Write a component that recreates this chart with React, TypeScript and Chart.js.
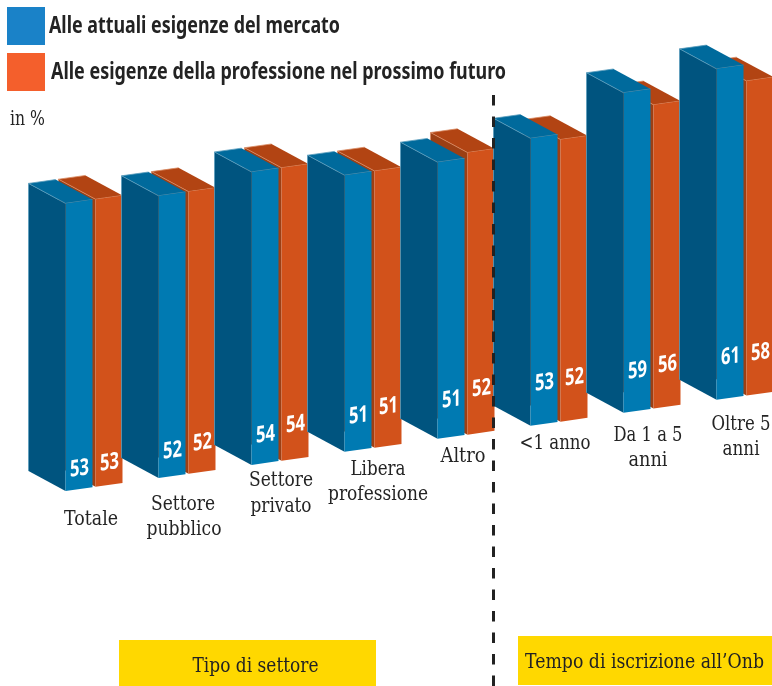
import React, { useEffect, useRef } from "react";
import { Chart, registerables } from "chart.js";

Chart.register(...registerables);

// ---- data ----
const categories = ["Totale", "Settore pubblico", "Settore privato", "Libera professione", "Altro", "<1 anno", "Da 1 a 5 anni", "Oltre 5 anni"];
const attuali = [53, 52, 54, 51, 51, 53, 59, 61];
const futuro = [53, 52, 54, 51, 52, 52, 56, 58];
const seriesNames = ["Alle attuali esigenze del mercato", "Alle esigenze della professione nel prossimo futuro"];
const unitLabel = "in %";
const groupTitles = ["Tipo di settore", "Tempo di iscrizione all\u2019Onb"];

// ---- category label lines and their placement: [text, centre x, centre y, width] ----
const labelLines: [string, number, number, number][] = [
  ["Totale", 91, 520, 54],
  ["Settore", 183, 505, 64],
  ["pubblico", 184, 530, 75],
  ["Settore", 281, 481, 64],
  ["privato", 281, 507, 61],
  ["Libera", 378, 470, 55],
  ["professione", 378, 495, 100],
  ["Altro", 463, 457, 45],
  ["<1 anno", 555, 444, 71],
  ["Da 1 a 5", 648, 436, 69],
  ["anni", 648, 461, 39],
  ["Oltre 5", 741, 425, 59],
  ["anni", 741, 450, 37],
];
// height of the value label above the bar foot
const liftA = [20, 25, 28, 34, 37, 41, 40, 41];
const liftB = [22, 29, 34, 39, 44, 42, 42, 41];

const SHEAR = -0.14;
const X0 = 65;
const DEPTH_X = -37;
const DEPTH_Y = -20;

const palette = [
  { front: "#007ab2", side: "#00547f", top: "#006a9c", edge: "#5b9dbd", legend: "#1a82c8" },
  { front: "#d2521b", side: "#9c3f14", top: "#b24413", edge: "#d98a62", legend: "#f45f2c" },
];

const fitText = (ctx: CanvasRenderingContext2D, text: string, cx: number, cy: number, font: string, width: number, color: string) => {
  ctx.save();
  ctx.font = font;
  ctx.fillStyle = color;
  ctx.textAlign = "center";
  ctx.textBaseline = "middle";
  const sx = width / ctx.measureText(text).width;
  ctx.translate(cx, cy);
  ctx.scale(sx, 1);
  ctx.fillText(text, 0, 0);
  ctx.restore();
};

const skew = (x: number, y: number): [number, number] => [x, y + SHEAR * (x - X0)];

const poly = (ctx: CanvasRenderingContext2D, pts: [number, number][], fill: string) => {
  ctx.beginPath();
  pts.forEach((p, i) => (i ? ctx.lineTo(p[0], p[1]) : ctx.moveTo(p[0], p[1])));
  ctx.closePath();
  ctx.fillStyle = fill;
  ctx.fill();
};

const back = (p: [number, number]): [number, number] => [p[0] + DEPTH_X, p[1] + DEPTH_Y];

const solid = {
  id: "solid",
  beforeDatasetDraw(chart: any, args: any) {
    const { ctx } = chart;
    const colors = palette[args.index];
    args.meta.data.forEach((bar: any) => {
      const { x, y, base, width } = bar.getProps(["x", "y", "base", "width"], true);
      const l = x - width / 2;
      const r = x + width / 2;
      const tl = skew(l, y);
      const tr = skew(r, y);
      const bl = skew(l, base);
      poly(ctx, [tl, bl, back(bl), back(tl)], colors.side);
      poly(ctx, [tl, tr, back(tr), back(tl)], colors.top);
      ctx.strokeStyle = colors.edge;
      ctx.lineWidth = 0.8;
      ctx.beginPath();
      ctx.moveTo(...back(bl));
      ctx.lineTo(...back(tl));
      ctx.lineTo(...back(tr));
      ctx.moveTo(...back(tl));
      ctx.lineTo(...tl);
      ctx.lineTo(...tr);
      ctx.stroke();
    });
    ctx.save();
    ctx.transform(1, SHEAR, 0, 1, 0, -SHEAR * X0);
  },
  afterDatasetDraw(chart: any, args: any) {
    const { ctx } = chart;
    const lifts = args.index === 0 ? liftA : liftB;
    const values = args.index === 0 ? attuali : futuro;
    args.meta.data.forEach((bar: any, i: number) => {
      const { x, base } = bar.getProps(["x", "base"], true);
      fitText(ctx, String(values[i]), x + 0.5, base - lifts[i], 'bold 23px "Noto Sans"', 19, "#ffffff");
    });
    ctx.restore();
  },
};

const furniture = {
  id: "furniture",
  afterDraw(chart: any) {
    const { ctx } = chart;
    const serif = '20px "DejaVu Serif"';
    const ink = "#242424";
    // legend
    ctx.fillStyle = palette[0].legend;
    ctx.fillRect(7, 7, 38, 38);
    ctx.fillStyle = palette[1].legend;
    ctx.fillRect(7, 53, 38, 38);
    const legendFont = 'bold 23px "Noto Sans"';
    fitText(ctx, seriesNames[0], 194.5, 26, legendFont, 291, "#232323");
    fitText(ctx, seriesNames[1], 278.5, 72, legendFont, 455, "#232323");
    fitText(ctx, unitLabel, 27.5, 120, serif, 35, ink);
    // category labels
    labelLines.forEach(([text, cx, cy, w]) => fitText(ctx, text, cx, cy, serif, w, ink));
    // section boxes
    ctx.fillStyle = "#ffd800";
    ctx.fillRect(119, 640, 257, 46);
    ctx.fillRect(518, 636, 254, 49);
    fitText(ctx, groupTitles[0], 255.5, 667, serif, 126, "#222222");
    fitText(ctx, groupTitles[1], 644.5, 663, serif, 239, "#222222");
    // divider
    ctx.save();
    ctx.strokeStyle = "#222222";
    ctx.lineWidth = 3;
    ctx.setLineDash([10.5, 11]);
    ctx.beginPath();
    ctx.moveTo(493.5, 95);
    ctx.lineTo(493.5, 686);
    ctx.stroke();
    ctx.restore();
  },
};

export default function App() {
  const ref = useRef<HTMLCanvasElement>(null);
  useEffect(() => {
    const chart = new Chart(ref.current as HTMLCanvasElement, {
      type: "bar",
      data: {
        labels: categories,
        datasets: [
          { label: seriesNames[0], data: attuali, backgroundColor: palette[0].front, clip: false as any },
          { label: seriesNames[1], data: futuro, backgroundColor: palette[1].front, clip: false as any },
        ],
      },
      options: {
        animation: false,
        responsive: false,
        devicePixelRatio: 1,
        layout: { padding: { left: 94, right: 27, top: 57, bottom: 195 } },
        datasets: { bar: { categoryPercentage: 0.645, barPercentage: 0.9, borderWidth: 0 } },
        plugins: { legend: { display: false }, tooltip: { enabled: false }, title: { display: false } },
        scales: {
          x: { display: false, offset: false, grid: { display: false } },
          y: { display: false, min: 0, max: 80, grid: { display: false } },
        },
      },
      plugins: [solid, furniture],
    } as any);
    return () => chart.destroy();
  }, []);
  return (
    <div style={{ position: "absolute", left: 0, top: 0, width: 772, height: 686, background: "#ffffff" }}>
      <canvas ref={ref} width={772} height={686} style={{ display: "block" }} />
    </div>
  );
}
